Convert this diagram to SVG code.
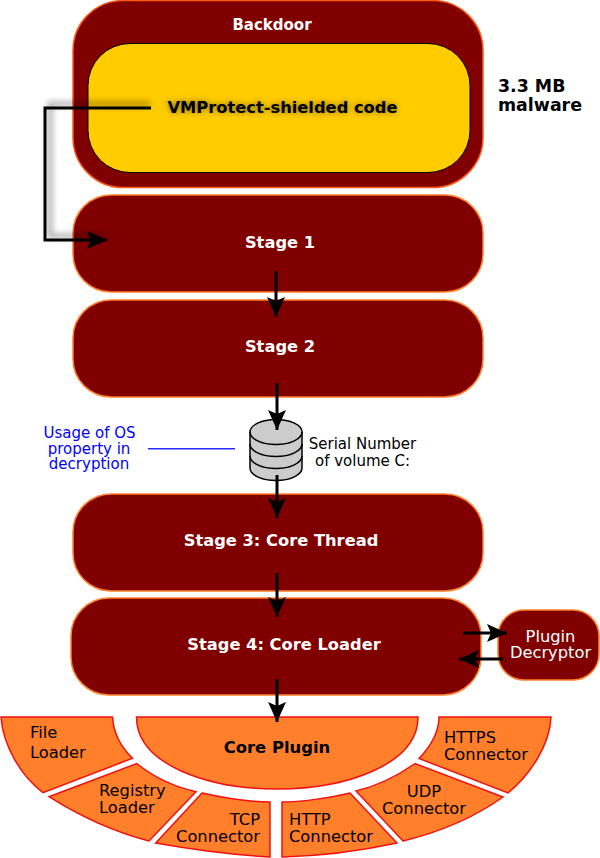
<svg xmlns="http://www.w3.org/2000/svg" width="600" height="858" viewBox="0 0 600 858">
<style>
text{font-family:"DejaVu Sans",sans-serif;text-anchor:middle}
.box{fill:#800000;stroke:#ff7f2a;stroke-width:1.5}
.t{fill:#fff;font-weight:bold;font-size:16.3px}
.w{fill:#fff;font-size:16.300px}
.seg{fill:#ff7f2a;stroke:#f01010;stroke-width:1.5}
.l{fill:#000;font-size:16.300px}
.s{text-anchor:start}
.e{text-anchor:end}
.n{fill:#0000ff;font-size:15px}
.disk{fill:#ccc;stroke:#000;stroke-width:1.500}
.c{fill:none;stroke:#000;stroke-width:3}
</style>
<defs>
<marker id="a" markerUnits="userSpaceOnUse" markerWidth="24" markerHeight="20" refX="20" refY="9" orient="auto"><path d="M0 0L20 9L0 18L4 9Z" fill="#000"/></marker>
<filter id="b" x="-30%" y="-30%" width="160%" height="160%"><feGaussianBlur stdDeviation="3"/></filter>
</defs>
<g id="backdoor"><rect class="box" x="73" y="0.5" width="410" height="187" rx="50" style="stroke:#ff5a14"/><text class="t" x="272" y="30" style="font-size:15px">Backdoor</text></g>
<g id="vmprotect"><rect x="88" y="43.500" width="382" height="129" rx="42" fill="#fc0" stroke="#000" stroke-width="1"/><text class="t" x="282.500" y="113" fill="#000" opacity=".5" filter="url(#b)" style="fill:#000">VMProtect-shielded code</text><text class="t" x="282.500" y="113" style="fill:#000">VMProtect-shielded code</text></g>
<g id="size"><text class="s" x="498" y="92" font-size="17.400" font-weight="bold">3.3 MB</text><text class="s" x="498" y="111" font-size="17.400" font-weight="bold">malware</text></g>
<g id="stage1"><rect class="box" x="73" y="195" width="410" height="97" rx="38"/><text class="t" x="280" y="248">Stage 1</text></g>
<g id="stage2"><rect class="box" x="73" y="300" width="410" height="97" rx="38"/><text class="t" x="280" y="352">Stage 2</text></g>
<g id="stage3"><rect class="box" x="73" y="494" width="410" height="97" rx="38"/><text class="t" x="281" y="546">Stage 3: Core Thread</text></g>
<g id="stage4"><rect class="box" x="71" y="598" width="410" height="97" rx="38"/><text class="t" x="284" y="650">Stage 4: Core Loader</text></g>
<g id="decryptor"><rect class="box" x="498" y="610" width="101" height="70" rx="26"/><text class="w" x="550.500" y="642">Plugin</text><text class="w" x="550.500" y="658">Decryptor</text></g>
<g id="volume"><path class="disk" d="M250 432A26 12.500 0 0 1 302 432V468A26 12.500 0 0 1 250 468Z"/><path d="M250 432A26 12.500 0 0 0 302 432M250 444A26 12.500 0 0 0 302 444M250 456A26 12.500 0 0 0 302 456" fill="none" stroke="#000" stroke-width="1.500"/><text class="l" x="362.500" y="449" style="font-size:15px">Serial Number</text><text class="l" x="362.500" y="466" style="font-size:15px">of volume C:</text></g>
<g id="note"><text class="n" x="89.500" y="438">Usage of OS</text><text class="n" x="89" y="453.500">property in</text><text class="n" x="89" y="469">decryption</text></g>
<g id="core"><path class="seg" d="M136.500 717H418C418 765 345 789 277 789C209 789 136.500 765 136.500 717Z"/><text x="277" y="752.500" font-size="16.400" font-weight="bold">Core Plugin</text></g>
<g id="file"><path class="seg" d="M1 717H112.500C113.500 733 121 747 132.500 758.300L43 792.700C20 775 3 745 1 717Z"/><text class="l s" x="30" y="738">File</text><text class="l s" x="30" y="757.500">Loader</text></g>
<g id="registry"><path class="seg" d="M136.700 763.500C155 778 175 787 196 791.700L149 841C110 831 78 815 49 796.700Z"/><text class="l s" x="99" y="796">Registry</text><text class="l s" x="99" y="812.500">Loader</text></g>
<g id="tcp"><path class="seg" d="M202 793C220 797 250 802 270 802V857C235 855 195 850 155.700 843Z"/><text class="l e" x="260" y="825">TCP</text><text class="l e" x="260" y="841.500">Connector</text></g>
<g id="http"><path class="seg" d="M282 802C300 802 330 798 350 793L397 843C360 851 320 856 282 857Z"/><text class="l s" x="289" y="825">HTTP</text><text class="l s" x="289" y="841.500">Connector</text></g>
<g id="udp"><path class="seg" d="M356 791C378 786 397 776 415 763.500L503 797C475 817 440 832 403 841Z"/><text class="l" x="424" y="797">UDP</text><text class="l" x="424" y="813.500">Connector</text></g>
<g id="https"><path class="seg" d="M439 717H551C550 745 530 775 508 793L419 758.500C430 747 439 733 439 717Z"/><text class="l s" x="444" y="743">HTTPS</text><text class="l s" x="444" y="759.500">Connector</text></g>
<g id="connectors">
<path d="M150 104H50V236H105" fill="none" stroke="#000" stroke-width="4" opacity=".4" filter="url(#b)"/>
<path class="c" d="M151 108H45V240H107" marker-end="url(#a)"/>
<path class="c" d="M276 271V317" marker-end="url(#a)"/>
<path class="c" d="M277 383V430" marker-end="url(#a)"/>
<path class="c" d="M277 475V518" marker-end="url(#a)"/>
<path class="c" d="M277 573V617" marker-end="url(#a)"/>
<path class="c" d="M277 679V722" marker-end="url(#a)"/>
<path class="c" d="M463 633H507" marker-end="url(#a)"/>
<path class="c" d="M503 659H459" marker-end="url(#a)"/>
<path d="M148 448.700H235" stroke="#2a2aff" stroke-width="1.500" fill="none"/>
</g>
</svg>
